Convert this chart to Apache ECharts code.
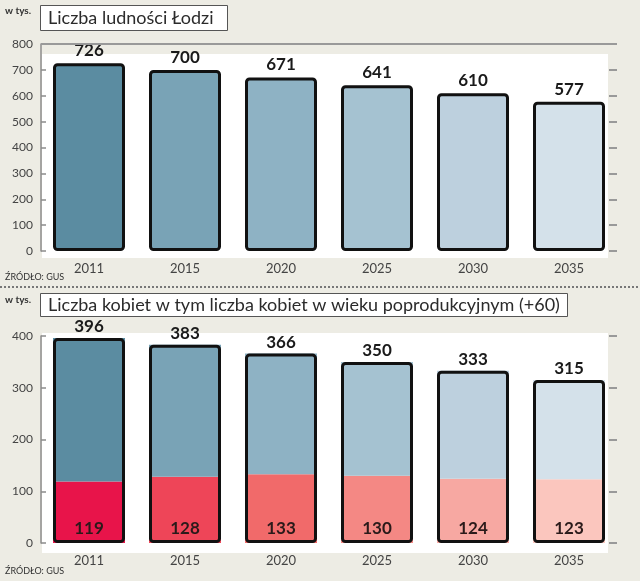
<!DOCTYPE html>
<html>
<head>
<meta charset="utf-8">
<script src="https://cdn.jsdelivr.net/npm/echarts@6/dist/echarts.min.js"></script>
<style>
html,body{margin:0;padding:0;background:#edece4;}
#chart{width:640px;height:581px;}
</style>
</head>
<body>
<div id="chart"></div>
<script>
const categories = ['2011', '2015', '2020', '2025', '2030', '2035'];
const population = [726, 700, 671, 641, 610, 577];
const womenTotal = [396, 383, 366, 350, 333, 315];
const womenSenior = [119, 128, 133, 130, 124, 123];
const blueColors = ['#5b8ca1', '#79a3b6', '#8eb2c4', '#a5c2d1', '#bdd0de', '#d4e1ea'];
const pinkColors = ['#e8144a', '#ee4558', '#f16a6a', '#f48884', '#f7a8a2', '#fbc6be'];

const FONT = 'Lato, "Open Sans", sans-serif';
const chart = echarts.init(document.getElementById('chart'));

const womenRest = womenTotal.map((t, i) => t - womenSenior[i]);

function yLeft(gridIndex, max) {
  return {
    type: 'value', gridIndex: gridIndex, position: 'left', min: 0, max: max, interval: 100,
    axisLine: {show: true, lineStyle: {color: '#8c8c8c', width: 1.5}},
    axisTick: {show: true, inside: true, length: 5, lineStyle: {color: '#8c8c8c', width: 1.5}},
    axisLabel: {color: '#444', fontSize: 12, fontFamily: FONT, margin: 8},
    splitLine: {show: false}
  };
}
function yRight(gridIndex, max) {
  return {
    type: 'value', gridIndex: gridIndex, position: 'right', min: 0, max: max, interval: 100,
    axisLine: {show: false},
    axisTick: {show: true, inside: true, length: 8, lineStyle: {color: '#999', width: 2}},
    axisLabel: {show: false},
    splitLine: {show: false}
  };
}
function xCat(gridIndex) {
  return {
    type: 'category', gridIndex: gridIndex, data: categories,
    axisLine: {show: false}, axisTick: {show: false},
    axisLabel: {color: '#444', fontSize: 13, fontFamily: FONT, margin: 11}
  };
}

chart.setOption({
  backgroundColor: '#edece4',
  animation: false,
  title: [
    {text: 'Liczba ludności Łodzi', left: 40, top: 5,
     backgroundColor: '#fff', borderColor: '#555', borderWidth: 1, padding: [4, 14, 4, 8],
     textStyle: {fontSize: 18, fontWeight: 'normal', color: '#2b2b2b', fontFamily: FONT}},
    {text: 'Liczba kobiet w tym liczba kobiet w wieku poprodukcyjnym (+60)', left: 40, top: 293,
     backgroundColor: '#fff', borderColor: '#555', borderWidth: 1, padding: [3, 8, 3, 8],
     textStyle: {fontSize: 18, fontWeight: 'normal', color: '#2b2b2b', fontFamily: FONT}}
  ],
  graphic: [
    {type: 'rect', z: -5, shape: {x: 42, y: 54, width: 566, height: 204}, style: {fill: '#ffffff'}},
    {type: 'rect', z: -5, shape: {x: 42, y: 333, width: 566, height: 220}, style: {fill: '#ffffff'}},
    {type: 'line', shape: {x1: 0, y1: 287, x2: 640, y2: 287}, style: {stroke: '#777', lineWidth: 2, lineDash: [2, 2]}},
    {type: 'text', left: 5, top: 6, style: {text: 'w tys.', fontSize: 10, fontWeight: 'bold', fill: '#333', fontFamily: FONT}},
    {type: 'text', left: 5, top: 295, style: {text: 'w tys.', fontSize: 10, fontWeight: 'bold', fill: '#333', fontFamily: FONT}},
    {type: 'text', left: 5, top: 273, style: {text: 'ŹRÓDŁO: GUS', fontSize: 9, fill: '#333', fontFamily: FONT}},
    {type: 'text', left: 5, top: 567, style: {text: 'ŹRÓDŁO: GUS', fontSize: 9, fill: '#333', fontFamily: FONT}}
  ],
  grid: [
    {left: 41, right: 23, top: 44, height: 207},
    {left: 41, right: 23, top: 336, height: 207}
  ],
  xAxis: [xCat(0), xCat(1)],
  yAxis: [yLeft(0, 800), yRight(0, 800), yLeft(1, 400), yRight(1, 400)],
  series: [
    {
      type: 'bar', xAxisIndex: 0, yAxisIndex: 0, barWidth: 72,
      data: population.map((v, i) => ({value: v, itemStyle: {color: blueColors[i]}})),
      itemStyle: {borderColor: '#111', borderWidth: 3, borderRadius: 3},
      label: {show: true, position: 'top', distance: 4, color: '#1a1a1a', fontSize: 17, fontWeight: 'bold', fontFamily: FONT},
      markLine: {silent: true, symbol: 'none', label: {show: false},
        lineStyle: {color: '#999', width: 2, type: 'solid'}, data: [{yAxis: 800}]}
    },
    {
      type: 'bar', xAxisIndex: 1, yAxisIndex: 2, stack: 'w', barWidth: 72,
      data: womenSenior.map((v, i) => ({value: v, itemStyle: {color: pinkColors[i]}})),
      label: {show: true, position: 'insideBottom', distance: 6, color: '#2a1a1a', fontSize: 17, fontWeight: 'bold', fontFamily: FONT}
    },
    {
      type: 'bar', xAxisIndex: 1, yAxisIndex: 2, stack: 'w', barWidth: 72,
      data: womenRest.map((v, i) => ({value: v, itemStyle: {color: blueColors[i]}}))
    },
    {
      type: 'bar', xAxisIndex: 1, yAxisIndex: 2, barWidth: 72, barGap: '-100%', z: 3,
      data: womenTotal,
      itemStyle: {color: 'rgba(0,0,0,0)', borderColor: '#111', borderWidth: 3, borderRadius: 3},
      label: {show: true, position: 'top', distance: 3, color: '#1a1a1a', fontSize: 17, fontWeight: 'bold', fontFamily: FONT}
    }
  ]
});
</script>
</body>
</html>
